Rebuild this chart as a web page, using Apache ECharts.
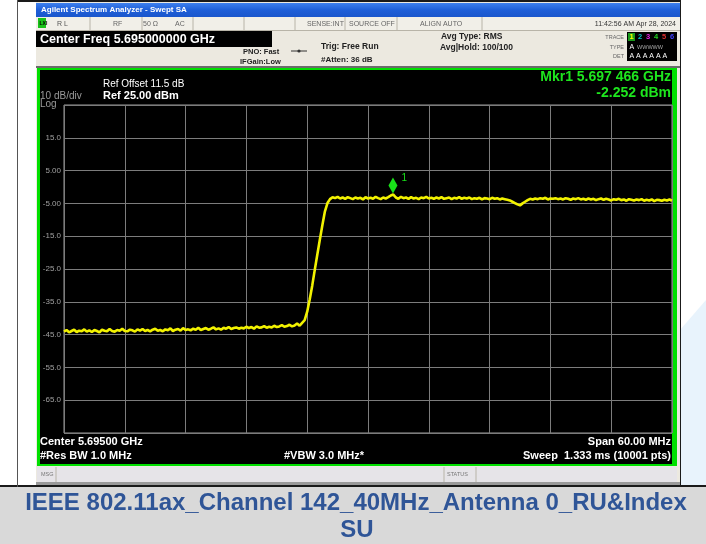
<!DOCTYPE html>
<html>
<head>
<meta charset="utf-8">
<script src="https://cdn.jsdelivr.net/npm/echarts@6/dist/echarts.min.js"></script>
<style>
  html, body { margin: 0; padding: 0; background: #fff; }
  #chart { width: 706px; height: 544px; }
</style>
</head>
<body>
<div id="chart"></div>
<script>
// sweep settings (MHz / dBm)
var freqStart = 5665.0;
var freqStep = 0.25;
var freqTicks = [5665, 5671, 5677, 5683, 5689, 5695, 5701, 5707, 5713, 5719, 5725];
var levelTicks = [25, 15, 5, -5, -15, -25, -35, -45, -55, -65, -75];

// trace, one value per 0.25 MHz
var noiseFloor = [
  -44.1, -43.6, -44.3, -43.9, -43.5, -44.2, -43.8, -44.0, -43.4, -44.1,
  -43.7, -44.2, -43.6, -43.9, -44.3, -43.5, -43.8, -44.0, -43.3, -43.9,
  -44.1, -43.6, -43.8, -43.2, -43.9, -44.0, -43.5, -43.7, -44.1, -43.4,
  -43.8, -43.3, -43.9, -43.6, -44.0, -43.5, -43.2, -43.8, -43.6, -44.0,
  -43.4, -43.7, -43.1, -43.9, -43.5, -43.3, -43.8, -43.0, -43.6, -43.4,
  -43.7, -43.2, -43.5, -42.9, -43.6, -43.3, -43.0, -43.5, -43.2, -42.8,
  -43.4, -43.1, -43.5, -42.9, -43.2, -42.7, -43.3, -43.0, -42.8, -43.2,
  -42.9, -43.1, -42.6, -43.0, -42.7, -43.2, -42.5, -42.9, -42.8, -42.4,
  -42.9, -42.6, -42.8, -42.3, -42.7, -42.5, -42.1, -42.6, -42.4, -42.0,
  -42.5, -42.2, -41.6, -42.3, -41.4
];
var bandEdge = [-40.6, -38.0, -34.2, -30.0, -25.2, -20.6, -16.0, -11.6, -7.4, -4.9, -3.7, -3.1];
var inBand = [
  -3.4, -3.0, -3.5, -3.2, -3.6, -3.1, -3.4, -3.7, -3.2, -3.5,
  -3.3, -3.8, -3.1, -3.5, -3.3, -3.6, -3.0, -3.4, -3.7, -3.2,
  -3.5, -3.1, -2.6, -2.3, -3.2, -3.6, -3.0, -3.4, -3.2, -3.6,
  -3.1, -3.5, -3.3, -3.7, -3.2, -3.4, -3.0, -3.5, -3.3, -3.6,
  -3.2, -3.5, -3.1, -3.6, -3.4, -3.2, -3.7, -3.3, -3.5, -3.1,
  -3.6, -3.3, -3.5, -3.2, -3.7, -3.4, -3.6, -3.3, -3.8, -3.4,
  -3.5, -3.7, -3.3, -3.6, -3.4, -3.8, -3.5, -3.7, -3.9, -4.1,
  -4.5, -4.9, -5.3, -5.6, -5.0, -4.5, -4.0, -3.6, -3.8, -3.5,
  -3.7, -3.4, -3.6, -3.3, -3.8, -3.5, -3.6, -3.4, -3.7, -3.5,
  -3.8, -3.4, -3.6, -3.9, -3.5, -3.7, -3.4, -3.8, -3.6, -3.9,
  -3.5, -3.8, -3.6, -4.0, -3.7, -3.5, -3.9, -3.6, -3.8, -4.1,
  -3.7, -3.9, -3.6, -4.0, -3.8, -4.2, -3.7, -3.9, -4.1, -3.8,
  -4.0, -3.7, -4.2, -3.9, -4.1, -3.8, -4.3, -3.9, -4.0, -4.2,
  -3.9, -4.1, -3.8, -4.2
];
var marker1 = [5697.466, -2.252];

var trace = noiseFloor.concat(bandEdge, inBand);
var traceData = [];
for (var i = 0; i < trace.length; i++) {
  traceData.push([freqStart + i * freqStep, trace[i]]);
}

var FONT = 'Liberation Sans';
function txt(x, y, s, size, color, opts) {
  opts = opts || {};
  return {
    type: 'text', x: x, y: y, z: 20,
    style: {
      text: s, fill: color,
      fontSize: size, fontFamily: opts.family || FONT,
      fontWeight: opts.bold ? 'bold' : 'normal',
      align: opts.align || 'left', verticalAlign: 'middle'
    }
  };
}
function box(x, y, w, h, color, z) {
  return { type: 'rect', z: z == null ? -10 : z, shape: { x: x, y: y, width: w, height: h }, style: { fill: color } };
}
function vline(x, y1, y2, color) {
  return { type: 'line', z: -5, shape: { x1: x, y1: y1, x2: x, y2: y2 }, style: { stroke: color, lineWidth: 1 } };
}

var graphics = [
  // page / table cell
  box(0, 0, 706, 544, '#ffffff', -30),
  { type: 'polygon', z: -29, shape: { points: [[680, 330], [706, 300], [706, 487], [680, 487]] }, style: { fill: '#e8f3fc' } },
  box(0, 487, 706, 57, '#d9d9d9', -29),
  box(0, 485, 706, 2, '#1a1a1a', -28),
  box(17, 0, 664, 2, '#1a1a1a', -28),
  box(17, 0, 1, 487, '#555555', -28),
  box(680, 0, 1, 487, '#1a1a1a', -28),
  // analyzer window
  box(36, 2, 644, 483, '#ece9e0', -20),
  { type: 'rect', z: -19, shape: { x: 36, y: 3, width: 644, height: 14 },
    style: { fill: new echarts.graphic.LinearGradient(0, 0, 0, 1, [
      { offset: 0, color: '#3d80ee' }, { offset: 0.5, color: '#1f5fd8' }, { offset: 1, color: '#1a56cc' }]) } },
  box(36, 17, 644, 13, '#f1efe8', -19),
  box(38, 18, 8, 10, '#19c219', -18),
  vline(90, 17, 30, '#b8b4a8'), vline(142, 17, 30, '#b8b4a8'), vline(193, 17, 30, '#b8b4a8'),
  vline(244, 17, 30, '#b8b4a8'), vline(295, 17, 30, '#b8b4a8'), vline(345, 17, 30, '#b8b4a8'),
  vline(397, 17, 30, '#b8b4a8'), vline(482, 17, 30, '#b8b4a8'),
  box(36, 30, 644, 1, '#b8b4a8', -18),
  box(36, 31, 236, 16, '#000000', -18),
  box(627, 32, 50, 29, '#000000', -18),
  box(628, 33, 7, 8, '#1a9a1a', -17),
  box(36, 66, 644, 2, '#6b6b6b', -18),
  // display frame
  box(37, 68, 640, 398, '#00e000', -16),
  box(40, 70, 632, 394, '#000000', -15),
  // message bar
  box(37, 467, 640, 15, '#e6e4e8', -16),
  vline(56, 467, 482, '#b8b4a8'), vline(444, 467, 482, '#b8b4a8'), vline(476, 467, 482, '#b8b4a8'),
  box(36, 482, 644, 3, '#9a9a9a', -16),
  // arrow symbol
  { type: 'line', z: 10, shape: { x1: 291, y1: 51, x2: 307, y2: 51 }, style: { stroke: '#333', lineWidth: 1 } },
  { type: 'circle', z: 10, shape: { cx: 299, cy: 51, r: 1.6 }, style: { fill: '#333' } },

  txt(41, 10, 'Agilent Spectrum Analyzer - Swept SA', 8, '#ffffff', { bold: true }),
  txt(39.5, 23.5, 'LXI', 5, '#000', { bold: true }),
  txt(57, 24, 'R L', 7, '#555'),
  txt(113, 24, 'RF', 7, '#666'),
  txt(143, 24, '50 Ω', 7, '#666'),
  txt(175, 24, 'AC', 7, '#666'),
  txt(307, 24, 'SENSE:INT', 7, '#666'),
  txt(349, 24, 'SOURCE OFF', 7, '#666'),
  txt(420, 24, 'ALIGN AUTO', 7, '#666'),
  txt(676, 24, '11:42:56 AM Apr 28, 2024', 7, '#333', { align: 'right' }),
  txt(40, 40, 'Center Freq 5.695000000 GHz', 12.5, '#ffffff', { bold: true }),
  txt(243, 52, 'PNO: Fast', 7.5, '#222', { bold: true }),
  txt(240, 62, 'IFGain:Low', 7.5, '#222', { bold: true }),
  txt(321, 47, 'Trig: Free Run', 8.5, '#222', { bold: true }),
  txt(321, 60, '#Atten: 36 dB', 8, '#222', { bold: true }),
  txt(441, 37, 'Avg Type: RMS', 8.5, '#222', { bold: true }),
  txt(440, 48, 'Avg|Hold: 100/100', 8.5, '#222', { bold: true }),
  txt(624, 37, 'TRACE', 5.5, '#666', { align: 'right' }),
  txt(624, 47, 'TYPE', 5.5, '#666', { align: 'right' }),
  txt(624, 56, 'DET', 5.5, '#666', { align: 'right' }),
  txt(629.5, 37, '1', 7.5, '#ffff00', { bold: true }),
  txt(638, 37, '2', 7.5, '#00c8c8', { bold: true }),
  txt(646, 37, '3', 7.5, '#e020e0', { bold: true }),
  txt(654, 37, '4', 7.5, '#20d020', { bold: true }),
  txt(662, 37, '5', 7.5, '#e03030', { bold: true }),
  txt(670, 37, '6', 7.5, '#4040ff', { bold: true }),
  txt(629.5, 47, 'A', 7, '#ffffff'),
  txt(637, 47, 'WWWWW', 5.5, '#aaaaaa'),
  txt(629.5, 56, 'A A A A A A', 7, '#ffffff'),

  txt(103, 84, 'Ref Offset 11.5 dB', 10, '#ffffff'),
  txt(103, 96, 'Ref 25.00 dBm', 11, '#ffffff', { bold: true }),
  txt(40, 96, '10 dB/div', 10, '#9a9a9a'),
  txt(40, 104, 'Log', 10, '#9a9a9a'),
  txt(671, 77, 'Mkr1 5.697 466 GHz', 14, '#1ee61e', { bold: true, align: 'right' }),
  txt(671, 93, '-2.252 dBm', 14, '#1ee61e', { bold: true, align: 'right' }),

  txt(40, 442, 'Center 5.69500 GHz', 11, '#ffffff', { bold: true }),
  txt(40, 456, '#Res BW 1.0 MHz', 11, '#ffffff', { bold: true }),
  txt(284, 456, '#VBW 3.0 MHz*', 11, '#ffffff', { bold: true }),
  txt(671, 442, 'Span 60.00 MHz', 11, '#ffffff', { bold: true, align: 'right' }),
  txt(671, 456, 'Sweep  1.333 ms (10001 pts)', 11, '#ffffff', { bold: true, align: 'right' }),
  txt(41, 474, 'MSG', 5.5, '#777'),
  txt(447, 474, 'STATUS', 5.5, '#777'),

  txt(356, 503, 'IEEE 802.11ax_Channel 142_40MHz_Antenna 0_RU&Index', 24, '#2f5597', { bold: true, align: 'center' }),
  txt(357, 530, 'SU', 24, '#2f5597', { bold: true, align: 'center' })
];

var chart = echarts.init(document.getElementById('chart'));
var option = {
  animation: false,
  grid: {
    left: 64, right: 34, top: 105, bottom: 111,
    show: true, borderColor: '#9a9a9a', borderWidth: 1
  },
  xAxis: {
    type: 'value',
    min: freqTicks[0], max: freqTicks[freqTicks.length - 1], interval: 6,
    axisLine: { show: false }, axisTick: { show: false }, axisLabel: { show: false },
    splitLine: { show: true, lineStyle: { color: '#7c7c7c', width: 1 } }
  },
  yAxis: {
    type: 'value',
    min: levelTicks[levelTicks.length - 1], max: levelTicks[0], interval: 10,
    axisLine: { show: false }, axisTick: { show: false },
    axisLabel: {
      margin: 3, fontSize: 8, color: '#a0a0a0', fontFamily: FONT,
      formatter: function (v) {
        if (v === levelTicks[0] || v === levelTicks[levelTicks.length - 1]) return '';
        return Math.abs(v) < 10 ? v.toFixed(2) : v.toFixed(1);
      }
    },
    splitLine: { show: true, lineStyle: { color: '#7c7c7c', width: 1 } }
  },
  graphic: graphics,
  series: [{
    type: 'line',
    data: traceData,
    showSymbol: false,
    z: 5,
    lineStyle: { color: '#f2f200', width: 2.6 },
    markPoint: {
      symbol: 'diamond',
      symbolSize: [9, 16],
      symbolOffset: [0, -9],
      itemStyle: { color: '#19e019' },
      label: { show: true, formatter: '1', position: 'right', offset: [-1, -7], color: '#19e019', fontSize: 10, fontFamily: FONT },
      data: [{ coord: marker1 }]
    }
  }]
};
chart.setOption(option);
window.addEventListener('resize', function () { chart.resize(); });
</script>
</body>
</html>
